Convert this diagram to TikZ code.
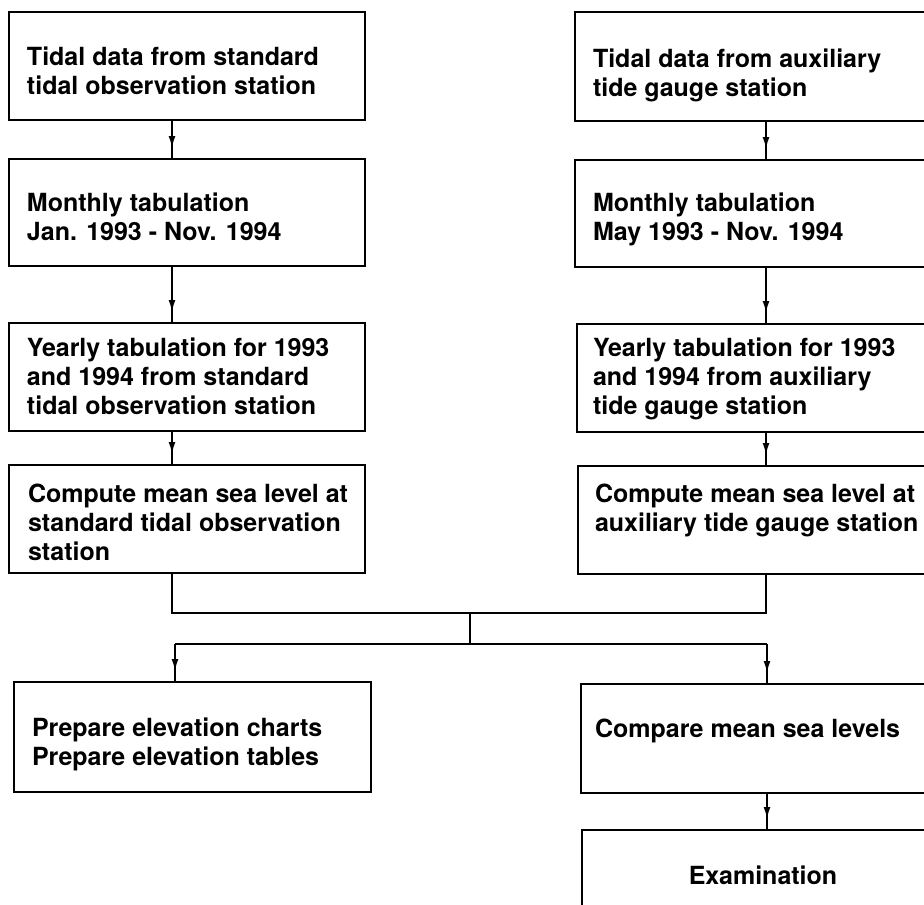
\documentclass[tikz,border=0pt]{standalone}
\usepackage{fontspec}
\setmainfont{TeX Gyre Heros}
\usetikzlibrary{arrows.meta,decorations.markings}

\tikzset{
  box/.style={draw=black, line width=2.4pt, rectangle, inner sep=0pt, outer sep=0pt, anchor=north west},
  txt/.style={inner sep=0pt, outer sep=0pt, align=left, anchor=north west,
              font=\fontsize{25}{29}\selectfont\bfseries},
  conn/.style={draw=black, line width=2pt},
  flow/.style={conn, postaction={decorate}, decoration={markings,
      mark=at position -11pt with {\arrow{Latex[length=12pt,width=7pt]}}}},
}

\begin{document}
\begin{tikzpicture}[x=1pt, y=-1pt]
  \useasboundingbox (0,0) rectangle (924,905);
  \fill[white] (0,0) rectangle (924,905);
  \clip (0,0) rectangle (924,905);

  % left column
  \node[box, minimum width=356pt, minimum height=108pt] (L1) at (9,12) {};
  \node[box, minimum width=356pt, minimum height=107pt] (L2) at (9,159) {};
  \node[box, minimum width=356pt, minimum height=108pt] (L3) at (9,323) {};
  \node[box, minimum width=356pt, minimum height=108pt] (L4) at (9,465) {};
  \node[box, minimum width=357pt, minimum height=110pt] (L5) at (14,682) {};

  % right column (runs past the right border)
  \node[box, minimum width=385pt, minimum height=109pt] (R1) at (575,12) {};
  \node[box, minimum width=385pt, minimum height=107pt] (R2) at (575,160) {};
  \node[box, minimum width=383pt, minimum height=108pt] (R3) at (577,324) {};
  \node[box, minimum width=382pt, minimum height=108pt] (R4) at (578,466) {};
  \node[box, minimum width=379pt, minimum height=109pt] (R5) at (581,684) {};
  \node[box, minimum width=378pt, minimum height=110pt] (R6) at (582,830) {};

  % texts
  \node[txt] (tL1) at (27,47) {Tidal data from standard\\tidal observation station};
  \node[txt] (tL2) at (27,193) {Monthly tabulation\\Jan. 1993 - Nov. 1994};
  \node[txt] (tL3) at (27,338) {Yearly tabulation for 1993\\and 1994 from standard\\tidal observation station};
  \node[txt] (tL4) at (28,484) {Compute mean sea level at\\standard tidal observation\\station};
  \node[txt] (tL5) at (32,718) {Prepare elevation charts\\Prepare elevation tables};

  \node[txt] (tR1) at (593,49) {Tidal data from auxiliary\\tide gauge station};
  \node[txt] (tR2) at (593,193) {Monthly tabulation\\May 1993 - Nov. 1994};
  \node[txt] (tR3) at (593,338) {Yearly tabulation for 1993\\and 1994 from auxiliary\\tide gauge station};
  \node[txt] (tR4) at (595,484) {Compute mean sea level at\\auxiliary tide gauge station};
  \node[txt] (tR5) at (595,719) {Compare mean sea levels};
  \node[txt, anchor=north] (tR6) at (763,866) {Examination};

  % connector positions
  \coordinate (cL) at (172,0);
  \coordinate (cR) at (766,0);
  \coordinate (mL) at (172,613);
  \coordinate (mR) at (766,613);
  \coordinate (mC) at (470,613);
  \coordinate (bC) at (470,644);
  \coordinate (bL) at (175,644);
  \coordinate (bR) at (767,644);

  % left chain
  \draw[flow] (L1.south -| cL) -- (L2.north -| cL);
  \draw[flow] (L2.south -| cL) -- (L3.north -| cL);
  \draw[flow] (L3.south -| cL) -- (L4.north -| cL);

  % right chain
  \draw[flow] (R1.south -| cR) -- (R2.north -| cR);
  \draw[flow] (R2.south -| cR) -- (R3.north -| cR);
  \draw[flow] (R3.south -| cR) -- (R4.north -| cR);

  % merge and branch
  \draw[conn] (L4.south -| mL) -- (mL) -- (mR) -- (R4.south -| mR);
  \draw[conn] (mC) -- (bC);
  \draw[conn] (bL) -- (bR);
  \draw[flow] (bL) -- (L5.north -| bL);
  \draw[flow] (bR) -- (R5.north -| bR);
  \draw[flow] (R5.south -| bR) -- (R6.north -| bR);
\end{tikzpicture}
\end{document}
